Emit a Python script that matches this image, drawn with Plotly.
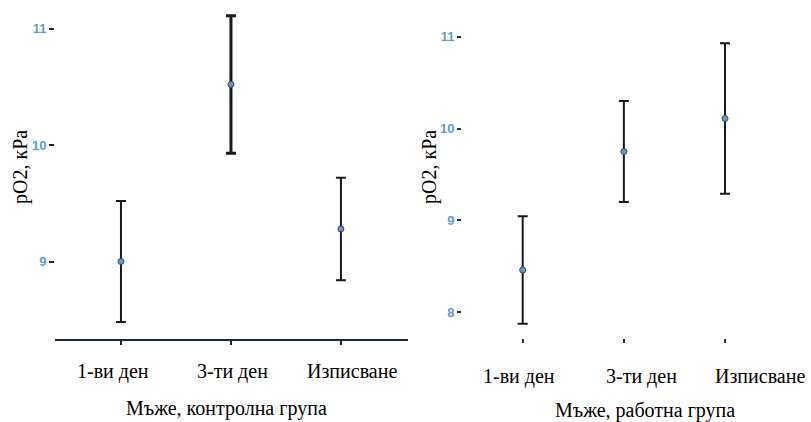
import plotly.graph_objects as go

# pO2 (kPa): mean and error half-width per stage, for the two groups of men
categories = ["1-ви ден", "3-ти ден", "Изписване"]

control_mean = [9.00, 10.52, 9.28]
control_err = [0.52, 0.59, 0.44]

work_mean = [8.46, 9.75, 10.11]
work_err = [0.585, 0.55, 0.82]

y_title = "pO2, кРа"
control_title = "Мъже, контролна група"
work_title = "Мъже, работна група"

control_ticks = [9, 10, 11]
work_ticks = [8, 9, 10, 11]

W, H = 811, 422
SERIF = "Liberation Serif"
BLUE = "#5b9bd5"
INK = "#1a1a1a"

fig = go.Figure()

# per-point error bar weights (the 3rd-day control bar is drawn heavier)
control_thick = [2, 3, 2]
work_thick = [2, 2, 2]

for i, cat in enumerate(categories):
    fig.add_trace(go.Scatter(
        x=[i], y=[control_mean[i]], mode="markers",
        marker=dict(color=BLUE, size=6, line=dict(color="#444", width=1)),
        error_y=dict(type="data", array=[control_err[i]], color=INK,
                     thickness=control_thick[i], width=5),
        xaxis="x", yaxis="y", showlegend=False, hoverinfo="skip"))
    fig.add_trace(go.Scatter(
        x=[i], y=[work_mean[i]], mode="markers",
        marker=dict(color=BLUE, size=6, line=dict(color="#444", width=1)),
        error_y=dict(type="data", array=[work_err[i]], color=INK,
                     thickness=work_thick[i], width=5),
        xaxis="x2", yaxis="y2", showlegend=False, hoverinfo="skip"))

tickfont = dict(color=BLUE, size=13, family="Liberation Sans", weight="bold")

fig.update_layout(
    width=W, height=H, margin=dict(l=0, r=0, t=0, b=0),
    paper_bgcolor="white", plot_bgcolor="white",
    xaxis=dict(domain=[55 / W, 408 / W], range=[-0.6, 2.61],
               tickvals=[0, 1, 2], showticklabels=False,
               showline=True, linecolor="#1c2b3a", linewidth=2,
               ticks="outside", ticklen=4, tickwidth=2, tickcolor="#222",
               showgrid=False, zeroline=False, anchor="y"),
    yaxis=dict(domain=[83 / H, 1], range=[8.335, 11.245],
               tickvals=control_ticks, ticks="outside", ticklen=5,
               tickwidth=2, tickcolor="#222", tickfont=tickfont,
               showline=False, showgrid=False, zeroline=False, anchor="x"),
    xaxis2=dict(domain=[462 / W, 1], range=[-0.6, 2.85],
                tickvals=[0, 1, 2], showticklabels=False,
                showline=False, ticks="outside", ticklen=4, tickwidth=2,
                tickcolor="#333", showgrid=False, zeroline=False, anchor="y2"),
    yaxis2=dict(domain=[84 / H, 1], range=[7.72, 11.40],
                tickvals=work_ticks, ticks="outside", ticklen=4,
                tickwidth=2, tickcolor="#333", tickfont=tickfont,
                showline=False, showgrid=False, zeroline=False, anchor="x2"),
)

label_font = dict(family=SERIF, size=20, color="black")
annotations = []
# category labels under each panel
left_shift = [-8, 2, 11]
right_shift = [-4, 18, 35]
for i, cat in enumerate(categories):
    annotations.append(dict(x=i, xref="x", y=(H - 371) / H, yref="paper",
                            text=cat, showarrow=False, xshift=left_shift[i],
                            font=label_font, xanchor="center", yanchor="middle"))
    annotations.append(dict(x=i, xref="x2", y=(H - 376) / H, yref="paper",
                            text=cat, showarrow=False, xshift=right_shift[i],
                            font=label_font, xanchor="center", yanchor="middle"))

# axis titles
for text, x, y, angle in [(control_title, 226, 408, 0), (work_title, 645, 410, 0),
                          (y_title, 20, 167, -90), (y_title, 429, 167, -90)]:
    annotations.append(dict(x=x / W, y=(H - y) / H, xref="paper", yref="paper",
                            text=text, textangle=angle, showarrow=False,
                            xanchor="center", yanchor="middle", font=label_font))
fig.update_layout(annotations=annotations)

fig.write_html("out.html")
